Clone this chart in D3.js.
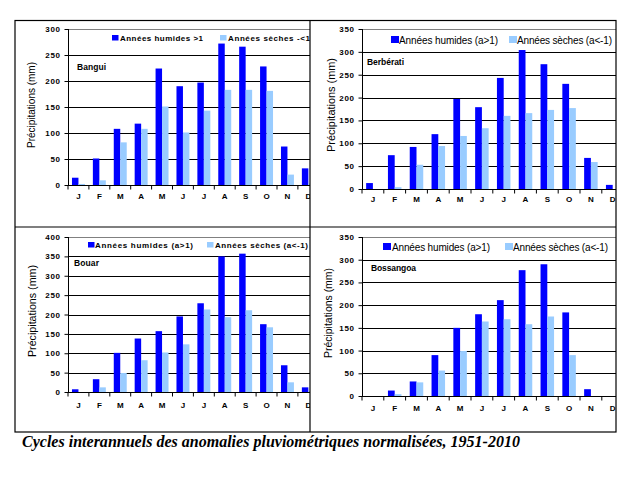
<!DOCTYPE html>
<html><head><meta charset="utf-8">
<script src="https://cdn.jsdelivr.net/npm/d3@7"></script>
<style>
html,body{margin:0;padding:0;background:#fff;}
svg{display:block;}
text{font-family:"Liberation Sans",Arial,sans-serif;}
</style></head>
<body>
<svg id="c" width="631" height="480"></svg>
<script>
const months = ["J","F","M","A","M","J","J","A","S","O","N","D"];

const banguiWet = [14, 51, 108, 118, 224, 190, 197, 272, 266, 228, 74, 32];
const banguiDry = [2, 9, 82, 108, 151, 101, 143, 183, 183, 181, 20, 3];
const berberatiWet = [13, 74, 92, 120, 197, 179, 243, 304, 273, 230, 68, 9];
const berberatiDry = [0, 4, 53, 94, 116, 133, 160, 166, 173, 177, 59, 0];
const bouarWet = [7, 33, 101, 138, 157, 195, 229, 350, 357, 175, 69, 12];
const bouarDry = [0, 12, 49, 82, 102, 123, 213, 193, 211, 167, 25, 2];
const bossangoaWet = [0, 12, 32, 90, 150, 180, 211, 277, 290, 184, 15, 0];
const bossangoaDry = [0, 4, 30, 56, 99, 164, 169, 158, 175, 90, 0, 0];

const ticks300 = [0, 50, 100, 150, 200, 250, 300];
const ticks350 = [0, 50, 100, 150, 200, 250, 300, 350];
const ticks400 = [0, 50, 100, 150, 200, 250, 300, 350, 400];

const stations = ["Bangui", "Berbérati", "Bouar", "Bossangoa"];
const legendWetA = "Années humides >1";
const legendDryA = "Années sèches -<1";
const legendWetB = "Années humides (a>1)";
const legendDryB = "Années sèches (a<-1)";
const yTitle = "Précipitations (mm)";
const caption = "Cycles interannuels des anomalies pluviométriques normalisées, 1951-2010";

const WET = "#0000ff", DRY = "#99ccff";
const svg = d3.select("#c");

const panels = [
  {name: stations[0], wet: banguiWet, dry: banguiDry, ticks: ticks300,
   clip: [15, 20, 295, 207], x0: 68, band: 20.9, y0: 185, y1: 29,
   leg: {wet: legendWetA, dry: legendDryA, sq1: 112, t1: 120, w1: 83, sq2: 220, t2: 228, w2: 82, sy: 35, sh: 5.5, ty: 41, size: 8, bold: true},
   st: {x: 77, y: 70, w: 29}, yt: {x: 35, cy: 105, w: 86}, xly: 201},
  {name: stations[1], wet: berberatiWet, dry: berberatiDry, ticks: ticks350,
   clip: [310, 20, 306, 207], x0: 362, band: 21.8, y0: 189, y1: 29,
   leg: {wet: legendWetB, dry: legendDryB, sq1: 391, t1: 399, w1: 99, sq2: 509, t2: 517, w2: 95, sy: 36, sh: 7, ty: 44, size: 10, bold: false},
   st: {x: 367, y: 65, w: 37}, yt: {x: 335, cy: 105, w: 94}, xly: 204},
  {name: stations[2], wet: bouarWet, dry: bouarDry, ticks: ticks400,
   clip: [15, 227, 295, 205], x0: 68, band: 20.9, y0: 392, y1: 237,
   leg: {wet: legendWetB, dry: legendDryB, sq1: 88, t1: 95, w1: 98, sq2: 207, t2: 215, w2: 93, sy: 242, sh: 5.5, ty: 248, size: 8, bold: true},
   st: {x: 74, y: 266, w: 25}, yt: {x: 36, cy: 311, w: 92}, xly: 410},
  {name: stations[3], wet: bossangoaWet, dry: bossangoaDry, ticks: ticks350,
   clip: [310, 227, 306, 205], x0: 362, band: 21.8, y0: 396, y1: 237,
   leg: {wet: legendWetB, dry: legendDryB, sq1: 383, t1: 392, w1: 98, sq2: 505, t2: 513, w2: 95, sy: 243, sh: 7, ty: 251, size: 10, bold: false},
   st: {x: 371, y: 271, w: 45}, yt: {x: 332, cy: 313, w: 90}, xly: 413}
];

panels.forEach((p, i) => {
  const cid = "clip" + i;
  svg.append("clipPath").attr("id", cid).append("rect")
    .attr("x", p.clip[0]).attr("y", p.clip[1]).attr("width", p.clip[2]).attr("height", p.clip[3]);
  const g = svg.append("g").attr("clip-path", `url(#${cid})`);

  const x = d3.scaleBand().domain(d3.range(12)).range([p.x0, p.x0 + 12 * p.band]);
  const yMax = p.ticks[p.ticks.length - 1];
  const y = d3.scaleLinear().domain([0, yMax]).range([p.y0, p.y1]);
  const bw = p.band * 0.31;
  const off = (p.band - 2 * bw) / 2;

  // gridlines
  g.selectAll(".grid").data(p.ticks.filter(t => t > 0)).enter().append("line")
    .attr("x1", p.x0).attr("x2", p.x0 + 12 * p.band)
    .attr("y1", d => Math.round(y(d)) + 0.5).attr("y2", d => Math.round(y(d)) + 0.5)
    .attr("stroke", d => d === yMax ? "#808080" : "#000").attr("stroke-width", 1);

  // bars
  g.selectAll(".wet").data(p.wet).enter().append("rect")
    .attr("x", (d, j) => x(j) + off).attr("width", bw)
    .attr("y", d => y(d)).attr("height", d => y(0) - y(d)).attr("fill", WET);
  g.selectAll(".dry").data(p.dry).enter().append("rect")
    .attr("x", (d, j) => x(j) + off + bw).attr("width", bw)
    .attr("y", d => y(d)).attr("height", d => y(0) - y(d)).attr("fill", DRY);

  // y axis
  const ya = g.append("g").attr("transform", `translate(${Math.round(p.x0) + 0.5},0)`)
    .call(d3.axisLeft(y).tickValues(p.ticks).tickSize(4).tickPadding(4).tickFormat(d3.format("d")));
  ya.select(".domain").attr("stroke", "#000").attr("d", `M-0,${p.y0}V${p.y1}`);
  ya.selectAll("text").attr("font-size", 8).attr("font-weight", "bold")
    .attr("letter-spacing", 0.6).attr("fill", "#000");

  // x axis
  const xa = g.append("g").attr("transform", `translate(0,${Math.round(p.y0) + 0.5})`)
    .call(d3.axisBottom(x).tickSize(0).tickFormat(j => months[j]));
  xa.select(".domain").attr("stroke", "#000").attr("d", `M${p.x0},0H${p.x0 + 12 * p.band}`);
  xa.selectAll("text").attr("y", p.xly - p.y0 - 3).attr("dy", 0)
    .attr("font-size", 8).attr("font-weight", "bold").attr("fill", "#000");
  xa.selectAll(".sep").data(d3.range(13)).enter().append("line").attr("class", "sep")
    .attr("x1", j => p.x0 + j * p.band).attr("x2", j => p.x0 + j * p.band)
    .attr("y1", 0).attr("y2", 4).attr("stroke", "#000");

  // legend
  const L = p.leg;
  g.append("rect").attr("x", L.sq1).attr("y", L.sy).attr("width", L.sh + 1).attr("height", L.sh).attr("fill", WET);
  g.append("rect").attr("x", L.sq2).attr("y", L.sy).attr("width", L.sh + 1).attr("height", L.sh).attr("fill", DRY);
  g.append("text").attr("x", L.t1).attr("y", L.ty).text(L.wet)
    .attr("font-size", L.size).attr("font-weight", L.bold ? "bold" : "normal")
    .attr("textLength", L.w1).attr("lengthAdjust", "spacing");
  g.append("text").attr("x", L.t2).attr("y", L.ty).text(L.dry)
    .attr("font-size", L.size).attr("font-weight", L.bold ? "bold" : "normal")
    .attr("textLength", L.w2).attr("lengthAdjust", "spacing");

  // station name
  g.append("text").attr("x", p.st.x).attr("y", p.st.y).text(p.name)
    .attr("font-size", 8.5).attr("font-weight", "bold")
    .attr("textLength", p.st.w).attr("lengthAdjust", "spacing");

  // y title
  g.append("text").attr("transform", `translate(${p.yt.x},${p.yt.cy}) rotate(-90)`)
    .attr("text-anchor", "middle").text(yTitle).attr("font-size", 10.5)
    .attr("textLength", p.yt.w).attr("lengthAdjust", "spacingAndGlyphs");
});

// frame
const frame = svg.append("g").attr("fill", "none").attr("stroke", "#000").attr("stroke-width", 1.2);
frame.append("rect").attr("x", 15).attr("y", 20.5).attr("width", 601).attr("height", 411.5);
frame.append("line").attr("x1", 310).attr("x2", 310).attr("y1", 20.5).attr("y2", 432);
frame.append("line").attr("x1", 15).attr("x2", 616).attr("y1", 227).attr("y2", 227);

// caption
svg.append("text").attr("x", 22).attr("y", 447).text(caption)
  .style("font-family", "'Liberation Serif','Times New Roman',serif")
  .style("font-style", "italic").style("font-weight", "bold").style("font-size", "16px")
  .attr("textLength", 498).attr("lengthAdjust", "spacingAndGlyphs");
</script>
</body></html>
